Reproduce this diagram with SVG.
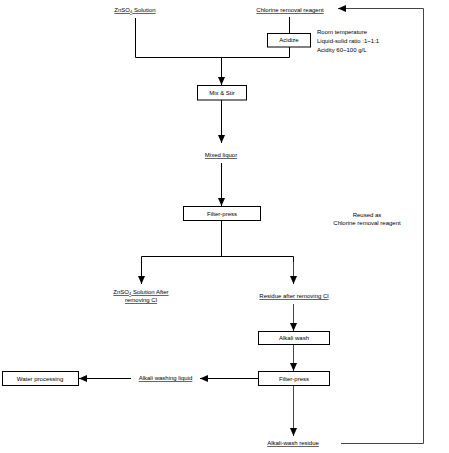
<svg xmlns="http://www.w3.org/2000/svg" width="449" height="453" viewBox="0 0 449 453">
<style>
text{font-family:"Liberation Sans",Arial,sans-serif;font-size:6px;fill:#000;text-anchor:middle}
.u{text-decoration:underline}
.l{text-anchor:start}
.box{fill:#fff;stroke:#000;stroke-width:1}
.ln{fill:none;stroke:#000;stroke-width:1}
.gr{stroke:#444}
</style>
<defs>
<marker id="ah" markerUnits="userSpaceOnUse" markerWidth="8" markerHeight="8" viewBox="0 0 8 8" refX="8" refY="4" orient="auto">
<path d="M0,0.5 L8,4 L0,7.5 Z" fill="#000"/>
</marker>
</defs>
<rect width="449" height="453" fill="#fff"/>
<g id="connectors">
<path class="ln" d="M135.5,18 V57.5 H289.5 V47"/>
<path class="ln" d="M289.5,17 V33"/>
<path class="ln" d="M221.5,57.5 V85" marker-end="url(#ah)"/>
<path class="ln" d="M221.5,100 V143" marker-end="url(#ah)"/>
<path class="ln" d="M221.5,163 V206" marker-end="url(#ah)"/>
<path class="ln" d="M221.5,220 V256.5"/>
<path class="ln" d="M141.5,283 V256.5 H293.5 V283"/>
<path class="ln" d="M141.5,262 V284" marker-end="url(#ah)"/>
<path class="ln gr" d="M293.5,262 V284" marker-end="url(#ah)"/>
<path class="ln gr" d="M293.5,304 V331" marker-end="url(#ah)"/>
<path class="ln gr" d="M293.5,344 V371" marker-end="url(#ah)"/>
<path class="ln gr" d="M293.5,386 V436" marker-end="url(#ah)"/>
<path class="ln" d="M258,378.5 H200" marker-end="url(#ah)"/>
<path class="ln" d="M131,378.5 H79" marker-end="url(#ah)"/>
<path class="ln gr" d="M341,443.5 H423.5 V8.5 H338" marker-end="url(#ah)"/>
</g>
<g id="n-znso4"><text x="135" y="12" class="u">ZnSO<tspan font-size="4" dy="1">4</tspan><tspan dy="-1"> Solution</tspan></text></g>
<g id="n-reagent"><text x="290" y="12" class="u">Chlorine removal reagent</text></g>
<g id="n-acidize"><rect class="box" x="267.5" y="33.5" width="43" height="13.5"/><text x="289" y="42">Acidize</text></g>
<g id="n-cond"><text class="l" x="317" y="34">Room temperature</text><text class="l" x="317" y="43">Liquid-solid ratio :1~1:1</text><text class="l" x="317" y="52">Acidity 60~100 g/L</text></g>
<g id="n-mix"><rect class="box" x="197.5" y="85.5" width="49" height="14.5"/><text x="222" y="95">Mix &amp; Stir</text></g>
<g id="n-mixed"><text x="221" y="157" class="u">Mixed liquor</text></g>
<g id="n-filter1"><rect class="box" x="183.5" y="206.5" width="77" height="14"/><text x="222" y="216">Filter-press</text></g>
<g id="n-reused"><text x="367" y="217">Reused as</text><text x="367" y="225">Chlorine removal reagent</text></g>
<g id="n-znso4b"><text x="141" y="294" class="u">ZnSO<tspan font-size="4" dy="1">4</tspan><tspan dy="-1"> Solution After</tspan></text><text x="141" y="302" class="u">removing Cl</text></g>
<g id="n-residue"><text x="294" y="298" class="u">Residue after removing Cl</text></g>
<g id="n-alkali"><rect class="box" x="258.5" y="331.5" width="71" height="13"/><text x="294" y="340">Alkali wash</text></g>
<g id="n-filter2"><rect class="box" x="258.5" y="371.5" width="71" height="14"/><text x="294" y="381">Filter-press</text></g>
<g id="n-liquid"><text x="165.5" y="380" class="u">Alkali washing liquid</text></g>
<g id="n-water"><rect class="box" x="2.5" y="371.5" width="76" height="14"/><text x="40" y="381">Water processing</text></g>
<g id="n-wres"><text x="293" y="445" class="u">Alkali-wash residue</text></g>
</svg>
